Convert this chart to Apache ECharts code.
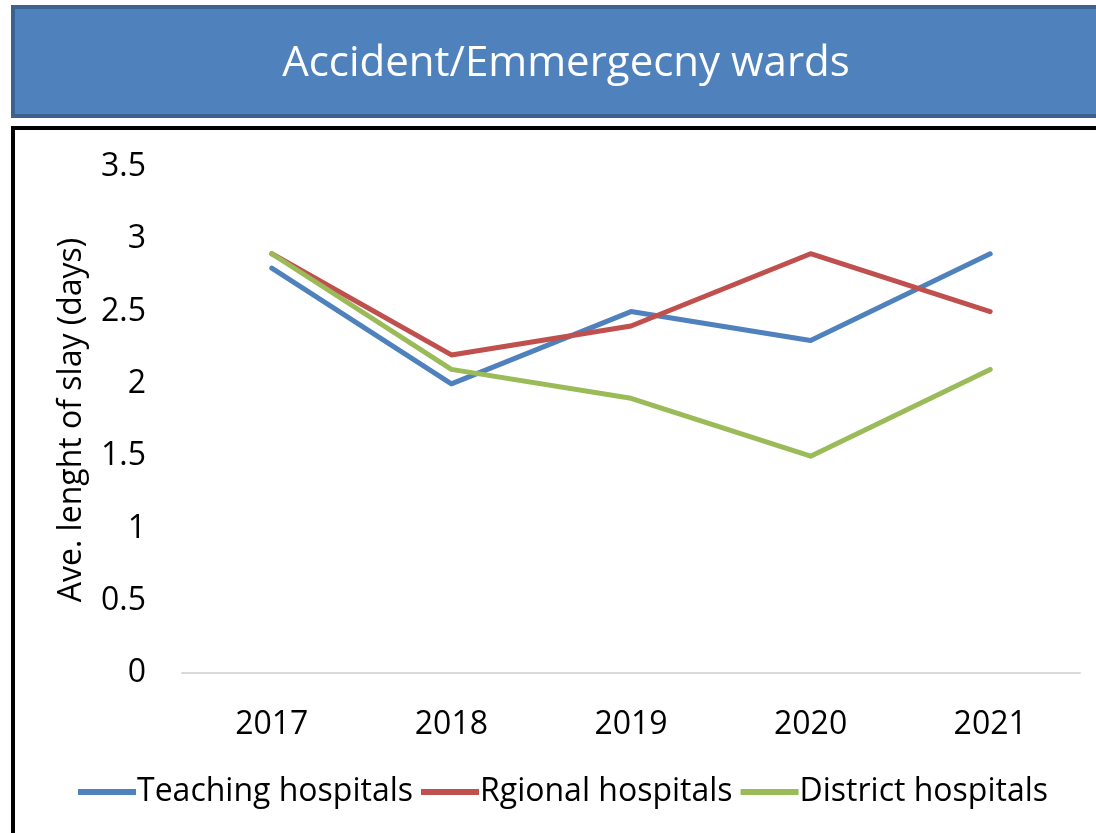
<!DOCTYPE html>
<html>
<head>
<meta charset="utf-8">
<script src="https://cdn.jsdelivr.net/npm/echarts@6/dist/echarts.min.js"></script>
<style>
html,body{margin:0;padding:0;background:#fff}
#chart{width:1096px;height:833px}
</style>
</head>
<body>
<div id="chart"></div>
<script>
var years=["2017","2018","2019","2020","2021"]
var teaching=[2.8,2.0,2.5,2.3,2.9]
var regional=[2.9,2.2,2.4,2.9,2.5]
var district=[2.9,2.1,1.9,1.5,2.1]
var seriesNames=["Teaching hospitals","Rgional hospitals","District hospitals"]
var colors=["#4F81BD","#C0504D","#9BBB59"]

var font="Open Sans"
var mychart=echarts.init(document.getElementById('chart'))

function lineSeries(name,data,color){
    return {
        name:name,
        type:'line',
        data:data,
        symbol:'none',
        lineStyle:{color:color,width:5,cap:'round',join:'round'},
        itemStyle:{color:color}
    }
}

var option={
    animation:false,
    graphic:[
        // title banner
        {type:'rect',shape:{x:13,y:7,width:1100,height:109},
         style:{fill:'#4F81BD',stroke:'#3C6290',lineWidth:4}},
        // chart frame
        {type:'rect',shape:{x:13,y:128,width:1100,height:720},
         style:{fill:'none',stroke:'#000',lineWidth:4}}
    ],
    title:{
        text:'Accident/Emmergecny wards',
        left:561,top:38,textAlign:'center',
        textStyle:{color:'#fff',fontSize:42,fontWeight:'normal',fontFamily:font}
    },
    legend:{
        data:seriesNames,
        left:73,top:771,
        itemWidth:58,itemHeight:7,itemGap:8,
        icon:'path://M0,0H10V1H0Z',
        textStyle:{fontSize:32,color:'#000',fontFamily:font,padding:[0,0,0,-4]}
    },
    grid:{left:182,right:16,top:167,bottom:160,containLabel:false},
    xAxis:{
        type:'category',
        data:years,
        boundaryGap:true,
        axisLine:{lineStyle:{color:'#D9D9D9',width:2}},
        axisTick:{show:false},
        axisLabel:{fontSize:32,color:'#000',fontFamily:font,margin:36}
    },
    yAxis:{
        type:'value',
        min:0,max:3.5,interval:0.5,
        name:'Ave. lenght of slay (days)',
        nameLocation:'middle',
        nameGap:94,
        nameTextStyle:{fontSize:32,color:'#000',fontFamily:font},
        axisLine:{show:false},
        axisTick:{show:false},
        splitLine:{show:false},
        axisLabel:{fontSize:32,color:'#000',fontFamily:font,margin:36}
    },
    series:[
        lineSeries(seriesNames[0],teaching,colors[0]),
        lineSeries(seriesNames[1],regional,colors[1]),
        lineSeries(seriesNames[2],district,colors[2])
    ]
}
mychart.setOption(option)
</script>
</body>
</html>
